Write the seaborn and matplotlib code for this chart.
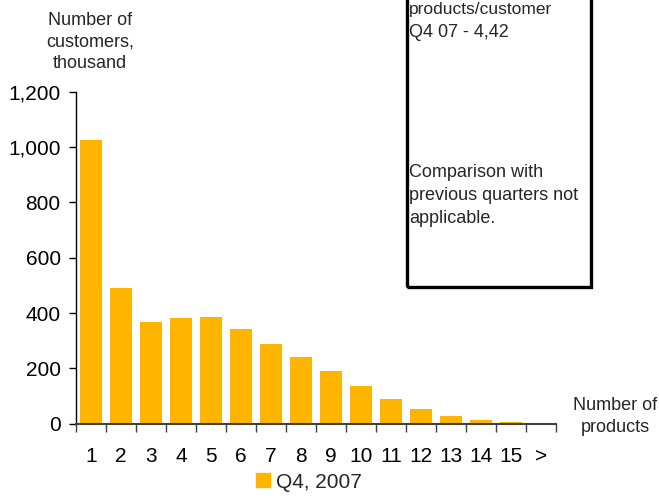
import matplotlib
matplotlib.use("Agg")
import matplotlib.pyplot as plt
import matplotlib.patches as mpatches
from matplotlib.ticker import FuncFormatter
import seaborn as sns
import pandas as pd

# Customers by number of products held
products = ["1", "2", "3", "4", "5", "6", "7", "8", "9", "10",
            "11", "12", "13", "14", "15", ">"]
customers = [1025, 490, 368, 382, 386, 342, 288, 241, 190, 136,
             88, 52, 27, 12, 5, 1]
period = "Q4, 2007"

bar_color = "#FFB400"

sns.set_theme(style="white")
plt.rcParams["font.family"] = ["Liberation Sans", "DejaVu Sans"]

df = pd.DataFrame({"products": products, "customers": customers,
                   "period": [period] * len(products)})

W, H = 659, 496
fig = plt.figure(figsize=(W / 100, H / 100), dpi=100)
ax = fig.add_axes([76 / W, 1 - 423.7 / H, 480 / W, (423.7 - 91.7) / H])

sns.barplot(data=df, x="products", y="customers", hue="period",
            order=products, palette=[bar_color], width=0.73,
            saturation=1, linewidth=0, ax=ax)

ax.set_xlim(-0.5, len(products) - 0.5)
ax.set_ylim(0, 1200)
ax.set_yticks([0, 200, 400, 600, 800, 1000, 1200])
ax.yaxis.set_major_formatter(FuncFormatter(lambda v, p: f"{int(v):,}"))
ax.set_xlabel("")
ax.set_ylabel("")

for side in ("top", "right"):
    ax.spines[side].set_visible(False)
ax.spines["left"].set_color("black")
ax.spines["left"].set_linewidth(1.0)
ax.spines["bottom"].set_color("#404040")
ax.spines["bottom"].set_linewidth(1.5)

ax.tick_params(axis="y", which="major", left=True, length=5, width=1,
               color="black", pad=6, labelsize=15, labelcolor="black")
ax.tick_params(axis="x", which="major", bottom=True, length=0, pad=17,
               labelsize=15, labelcolor="black")
ax.set_xticks([i - 0.5 for i in range(len(products) + 1)], minor=True)
ax.tick_params(axis="x", which="minor", bottom=True, length=6, width=1,
               color="#404040", direction="out")

# Legend below the category labels
leg = ax.get_legend()
if leg is not None:
    leg.remove()
handle = mpatches.Patch(color=bar_color, label=period)
fig.legend(handles=[handle], loc="center", bbox_to_anchor=(309 / W, 1 - 482 / H),
           frameon=False, fontsize=15, handlelength=0.67, handleheight=0.67,
           handletextpad=0.25, borderpad=0)

# Axis titles
fig.text(90 / W, 1 - 42 / H, "Number of\ncustomers,\nthousand", ha="center",
         va="center", fontsize=13, linespacing=1.35)
fig.text(615 / W, 1 - 416.5 / H, "Number of\nproducts", ha="center",
         va="center", fontsize=13, linespacing=1.35)

# Comment box
box = mpatches.Rectangle((406.5 / W, 1 - 287 / H), 184 / W, 300 / H,
                         transform=fig.transFigure, fill=False,
                         edgecolor="black", linewidth=2.4, clip_on=False)
fig.patches.append(box)
tx = 409 / W
fig.text(tx, 1 - 14 / H, "products/customer", fontsize=12.5, va="baseline")
fig.text(tx, 1 - 37 / H, "Q4 07 - 4,42", fontsize=13, va="baseline")
fig.text(tx, 1 - 177 / H, "Comparison with", fontsize=13, va="baseline")
fig.text(tx, 1 - 200 / H, "previous quarters not", fontsize=13, va="baseline")
fig.text(tx, 1 - 223 / H, "applicable.", fontsize=13, va="baseline")

fig.savefig("out.png", dpi=100)
